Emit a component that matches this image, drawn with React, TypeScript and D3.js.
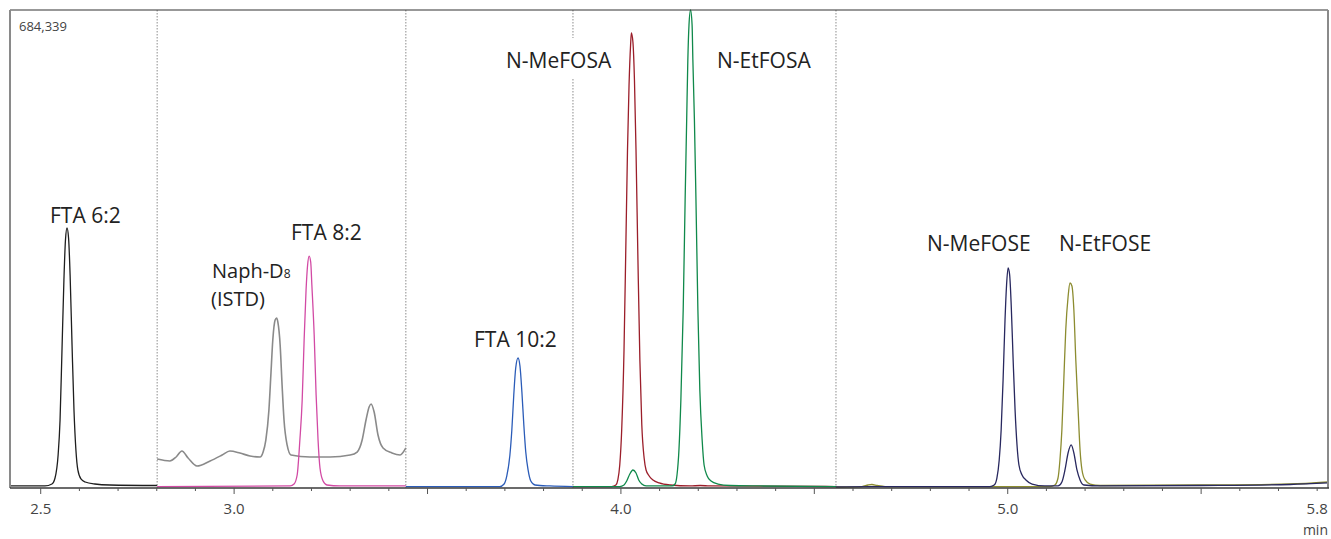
import React, { useEffect } from "react";
import * as d3 from "d3";

// retention time (min), intensity (counts)
const ftaSix = [
  [2.421, 2900], [2.511, 2900], [2.529, 5700], [2.537, 14300], [2.545, 47200], [2.55, 97400],
  [2.555, 197600], [2.56, 297700], [2.564, 355100], [2.568, 372200], [2.572, 357900],
  [2.576, 305000], [2.581, 204700], [2.586, 111700], [2.591, 54400], [2.596, 25800],
  [2.604, 12900], [2.615, 8600], [2.64, 5700], [2.679, 4300], [2.801, 3600],
];

const naphD8 = [
  [2.801, 41500], [2.834, 38700], [2.85, 44400], [2.865, 53000], [2.881, 43000], [2.904, 31500],
  [2.938, 38700], [2.969, 47200], [2.989, 53000], [3.015, 50100], [3.041, 45800], [3.067, 44400],
  [3.075, 51500], [3.082, 68700], [3.09, 111700], [3.095, 161800], [3.1, 211900], [3.106, 240500],
  [3.11, 243400], [3.113, 237700], [3.119, 204700], [3.124, 147500], [3.129, 97400], [3.137, 61600],
  [3.147, 47200], [3.196, 44400], [3.248, 44400], [3.3, 47200], [3.318, 51500], [3.331, 68700],
  [3.341, 97400], [3.349, 116000], [3.354, 120300], [3.362, 108800], [3.372, 75900], [3.385, 57300],
  [3.408, 50100], [3.429, 47200], [3.444, 57300],
];

const ftaEight = [
  [2.801, 2100], [3.145, 2900], [3.155, 5700], [3.163, 18600], [3.17, 68700], [3.176, 126000],
  [3.181, 211900], [3.186, 283500], [3.19, 319300], [3.194, 332100], [3.198, 323500], [3.201, 290600],
  [3.207, 219000], [3.212, 133100], [3.217, 68700], [3.222, 28600], [3.23, 10000], [3.24, 4300],
  [3.274, 2900], [3.444, 2900],
];

const ftaTen = [
  [3.444, 2100], [3.687, 2100], [3.698, 5700], [3.705, 17200], [3.713, 47200], [3.718, 83000],
  [3.723, 133100], [3.728, 171800], [3.734, 186100], [3.739, 174600], [3.744, 137400], [3.749, 90200],
  [3.754, 51500], [3.76, 25800], [3.767, 10000], [3.778, 4300], [3.816, 2900], [3.876, 2100],
];

const meFosa = [
  [3.876, 2100], [3.976, 2100], [3.987, 4300], [3.992, 11500], [3.997, 32900], [4.002, 83000],
  [4.008, 197600], [4.013, 355100], [4.017, 483900], [4.021, 577000], [4.025, 634300], [4.027, 651400],
  [4.031, 638500], [4.035, 584100], [4.039, 483900], [4.044, 326400], [4.049, 183300], [4.054, 90200],
  [4.06, 43000], [4.065, 25800], [4.073, 17200], [4.083, 11500], [4.099, 7200], [4.127, 4300],
  [4.179, 2900], [4.205, 3600], [4.23, 2900], [4.556, 2100],
];

const etFosa = [
  [3.876, 2100], [3.997, 2100], [4.008, 4300], [4.015, 10000], [4.023, 20000], [4.031, 25800],
  [4.039, 21500], [4.046, 11500], [4.054, 5700], [4.065, 2900], [4.132, 2900], [4.14, 5700],
  [4.145, 18600], [4.15, 54400], [4.155, 126000], [4.161, 254800], [4.166, 412300], [4.17, 526900],
  [4.173, 612800], [4.176, 662900], [4.18, 684339], [4.184, 662900], [4.186, 612800], [4.19, 526900],
  [4.194, 412300], [4.199, 254800], [4.204, 140300], [4.21, 68700], [4.215, 32900], [4.223, 17200],
  [4.233, 10000], [4.251, 5700], [4.282, 3600], [4.36, 2900], [4.556, 2100],
];

const meFose = [
  [4.556, 1400], [4.644, 2100], [4.954, 2100], [4.965, 4300], [4.972, 14300], [4.978, 40100],
  [4.983, 83000], [4.988, 154600], [4.993, 240500], [4.997, 290600], [5.001, 315000], [5.005, 305000],
  [5.009, 262000], [5.014, 183300], [5.019, 111700], [5.024, 61600], [5.029, 32900], [5.037, 18600],
  [5.047, 11500], [5.063, 5700], [5.096, 2900], [5.13, 2900], [5.14, 8600], [5.148, 25800],
  [5.156, 50100], [5.164, 61600], [5.171, 50100], [5.179, 25800], [5.187, 11500], [5.197, 4300],
  [5.239, 2900], [5.497, 3600], [5.73, 5000], [5.828, 7200],
];

const etFose = [
  [4.556, 1400], [4.623, 2100], [4.639, 4300], [4.649, 5000], [4.662, 3600], [4.683, 2100],
  [5.109, 2100], [5.122, 4300], [5.13, 14300], [5.135, 40100], [5.14, 83000], [5.145, 154600],
  [5.15, 226200], [5.156, 273500], [5.161, 293500], [5.166, 289200], [5.171, 254800], [5.176, 183300],
  [5.182, 111700], [5.187, 54400], [5.192, 25800], [5.2, 11500], [5.213, 5700], [5.239, 3600],
  [5.497, 4300], [5.73, 5700], [5.828, 8600],
];

const segmentBreaks = [2.801, 3.444, 3.876, 4.556];
const labeledTicks = [2.5, 3.0, 4.0, 5.0, 5.8];
const maxCounts = 684339;

const traces = [
  { name: "FTA 6:2", data: ftaSix, color: "#1e1e1e", width: 1.3 },
  { name: "Naph-D8", data: naphD8, color: "#8a8a8a", width: 1.6 },
  { name: "FTA 8:2", data: ftaEight, color: "#d24aa4", width: 1.3 },
  { name: "FTA 10:2", data: ftaTen, color: "#2b5cb8", width: 1.3 },
  { name: "N-MeFOSA", data: meFosa, color: "#9b1e2a", width: 1.3 },
  { name: "N-EtFOSA", data: etFosa, color: "#10894b", width: 1.3 },
  { name: "N-EtFOSE", data: etFose, color: "#8c8c30", width: 1.3 },
  { name: "N-MeFOSE", data: meFose, color: "#28285f", width: 1.3 },
];

export default function App() {
  useEffect(() => {
    document.body.style.margin = "0";
  }, []);

  const W = 1331;
  const H = 539;
  const left = 10, right = 1328, top = 10, bottom = 488;

  const x = d3.scaleLinear().domain([2.4206, 5.828]).range([left, right]);
  const y = d3.scaleLinear().domain([0, maxCounts]).range([bottom, top]);

  const line = d3
    .line<number[]>()
    .x((d) => x(d[0]))
    .y((d) => y(d[1]))
    .curve(d3.curveMonotoneX);

  const minorTicks = d3.range(25, 59).map((i) => i / 10);
  const font = "'Open Sans', 'Noto Sans', sans-serif";

  return (
    <svg width={W} height={H} style={{ display: "block", background: "#fff" }}>
      {/* segment boundaries */}
      {segmentBreaks.map((t) => (
        <line key={t} x1={x(t)} x2={x(t)} y1={top} y2={bottom} stroke="#8c8c8c"
          strokeWidth={1} strokeDasharray="1.5,1.5" />
      ))}

      {traces.map((tr) => (
        <path key={tr.name} d={line(tr.data) || ""} fill="none" stroke={tr.color}
          strokeWidth={tr.width} strokeLinejoin="round" />
      ))}

      {/* frame */}
      <line x1={left} x2={right} y1={top} y2={top} stroke="#333" strokeWidth={1.2} />
      <line x1={left} x2={left} y1={top} y2={bottom} stroke="#8a8a8a" strokeWidth={2} />
      <line x1={right} x2={right} y1={top} y2={bottom} stroke="#8a8a8a" strokeWidth={2} />
      <line x1={left} x2={right + 1} y1={bottom} y2={bottom} stroke="#3a3a3a" strokeWidth={1.6} />

      {/* ticks */}
      {minorTicks.map((t) => {
        const major = Math.abs(t * 2 - Math.round(t * 2)) < 1e-6;
        return (
          <line key={t} x1={x(t)} x2={x(t)} y1={bottom} y2={bottom + (major ? 6 : 3)}
            stroke="#555" strokeWidth={1} />
        );
      })}
      {labeledTicks.map((t) => (
        <text key={t} x={x(t)} y={514} textAnchor="middle" fontFamily={font} fontSize={15}
          fill="#444">{t.toFixed(1)}</text>
      ))}
      <text x={1328} y={535} textAnchor="end" fontFamily={font} fontSize={14} fill="#444">min</text>

      <text x={19} y={31} fontFamily={font} fontSize={13} fill="#444">
        {d3.format(",")(maxCounts)}
      </text>

      {/* peak labels */}
      <g fontFamily={font} fontSize={21} fill="#222">
        <text x={50} y={223}>FTA 6:2</text>
        <text x={212} y={278} fontSize={20}>
          Naph-D<tspan fontSize={12}>8</tspan>
        </text>
        <text x={211} y={306} fontSize={20}>(ISTD)</text>
        <text x={291} y={240}>FTA 8:2</text>
        <text x={474} y={347}>FTA 10:2</text>
        <rect x={502} y={38} width={116} height={40} fill="#fff" />
        <text x={506} y={68}>N-MeFOSA</text>
        <text x={717} y={68}>N-EtFOSA</text>
        <text x={927} y={251}>N-MeFOSE</text>
        <text x={1059} y={251}>N-EtFOSE</text>
      </g>
    </svg>
  );
}
